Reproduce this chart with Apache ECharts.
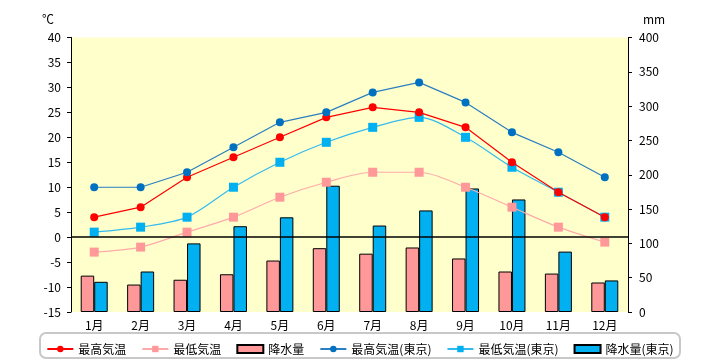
<!DOCTYPE html>
<html><head><meta charset="utf-8">
<script src="https://cdn.jsdelivr.net/npm/echarts@6/dist/echarts.min.js"></script>
<style>html,body{margin:0;padding:0;background:#fff;}#c{width:720px;height:360px;}</style>
</head><body><div id="c"></div>
<script>
var months = ['1月','2月','3月','4月','5月','6月','7月','8月','9月','10月','11月','12月'];
var highTemp = [4, 6, 12, 16, 20, 24, 26, 25, 22, 15, 9, 4];
var lowTemp = [-3, -2, 1, 4, 8, 11, 13, 13, 10, 6, 2, -1];
var rain = [53, 40, 47, 55, 75, 93, 85, 94, 78, 59, 56, 43];
var highTokyo = [10, 10, 13, 18, 23, 25, 29, 31, 27, 21, 17, 12];
var lowTokyo = [1, 2, 4, 10, 15, 19, 22, 24, 20, 14, 9, 4];
var rainTokyo = [44, 59, 100, 125, 138, 184, 126, 148, 180, 164, 88, 46];

var font = '"Noto Sans CJK JP", "Noto Sans", sans-serif';
var chart = echarts.init(document.getElementById('c'));
chart.setOption({
  animation: false,
  textStyle: {fontFamily: font},
  grid: {left: 71, right: 92, top: 37.5, bottom: 48, show: true, backgroundColor: '#ffffcc', borderWidth: 0},
  graphic: [{type: 'rect', shape: {x: 40, y: 333, width: 640, height: 25, r: 6}, style: {fill: 'none', stroke: '#c8c8c8', lineWidth: 2}}],
  legend: {
    left: 'center', top: 338, itemWidth: 26, itemHeight: 8, itemGap: 15,
    textStyle: {fontSize: 12, color: '#000', fontFamily: font},
    data: ['最高気温','最低気温',{name:'降水量', icon:'rect'},'最高気温(東京)','最低気温(東京)',{name:'降水量(東京)', icon:'rect'}]
  },
  xAxis: {
    type: 'category', data: months,
    axisLine: {show: false}, axisTick: {show: false},
    axisLabel: {color: '#000', fontSize: 12, margin: 7}
  },
  yAxis: [{
    type: 'value', min: -15, max: 40, interval: 5, name: '℃',
    nameGap: 12, nameTextStyle: {color: '#000', fontSize: 12, align: 'right', padding: [0, 17, 0, 0]},
    axisLine: {show: true, lineStyle: {color: '#000', width: 1}},
    axisTick: {show: true, length: 4, lineStyle: {color: '#000'}},
    axisLabel: {color: '#000', fontSize: 12, margin: 10},
    splitLine: {show: false}
  }, {
    type: 'value', min: 0, max: 400, interval: 50, name: 'mm', position: 'right',
    nameGap: 12, nameTextStyle: {color: '#000', fontSize: 12, align: 'left', padding: [0, 0, 0, 15]},
    axisLine: {show: true, lineStyle: {color: '#000', width: 1}},
    axisTick: {show: true, length: 4, lineStyle: {color: '#000'}},
    axisLabel: {color: '#000', fontSize: 12, margin: 11},
    splitLine: {show: false}
  }],
  series: [
    {name: '降水量', type: 'bar', yAxisIndex: 1, data: rain, barWidth: 13.5, barGap: '0%',
     itemStyle: {color: '#ff9999', borderColor: '#000', borderWidth: 1}, z: 1},
    {name: '降水量(東京)', type: 'bar', yAxisIndex: 1, data: rainTokyo, barWidth: 13.5, barGap: '0%',
     itemStyle: {color: '#00b0f0', borderColor: '#000', borderWidth: 1}, z: 1},
    {name: '最高気温', type: 'line', data: highTemp, symbol: 'circle', symbolSize: 8,
     itemStyle: {color: '#ff0000'}, lineStyle: {color: '#ff0000', width: 1.2}, z: 5,
     markLine: {silent: true, symbol: 'none', label: {show: false}, lineStyle: {color: '#000', type: 'solid', width: 1.5}, data: [{yAxis: 0}]}},
    {name: '最低気温', type: 'line', data: lowTemp, symbol: 'rect', symbolSize: 9, smooth: 0.3,
     itemStyle: {color: '#ff9999'}, lineStyle: {color: '#ffaaaa', width: 1.2}, z: 4},
    {name: '最高気温(東京)', type: 'line', data: highTokyo, symbol: 'circle', symbolSize: 8,
     itemStyle: {color: '#0070c0'}, lineStyle: {color: '#2a7fc0', width: 1.2}, z: 5},
    {name: '最低気温(東京)', type: 'line', data: lowTokyo, symbol: 'rect', symbolSize: 9, smooth: 0.3,
     itemStyle: {color: '#00b0f0'}, lineStyle: {color: '#33bbee', width: 1.2}, z: 4}
  ]
});
</script></body></html>
